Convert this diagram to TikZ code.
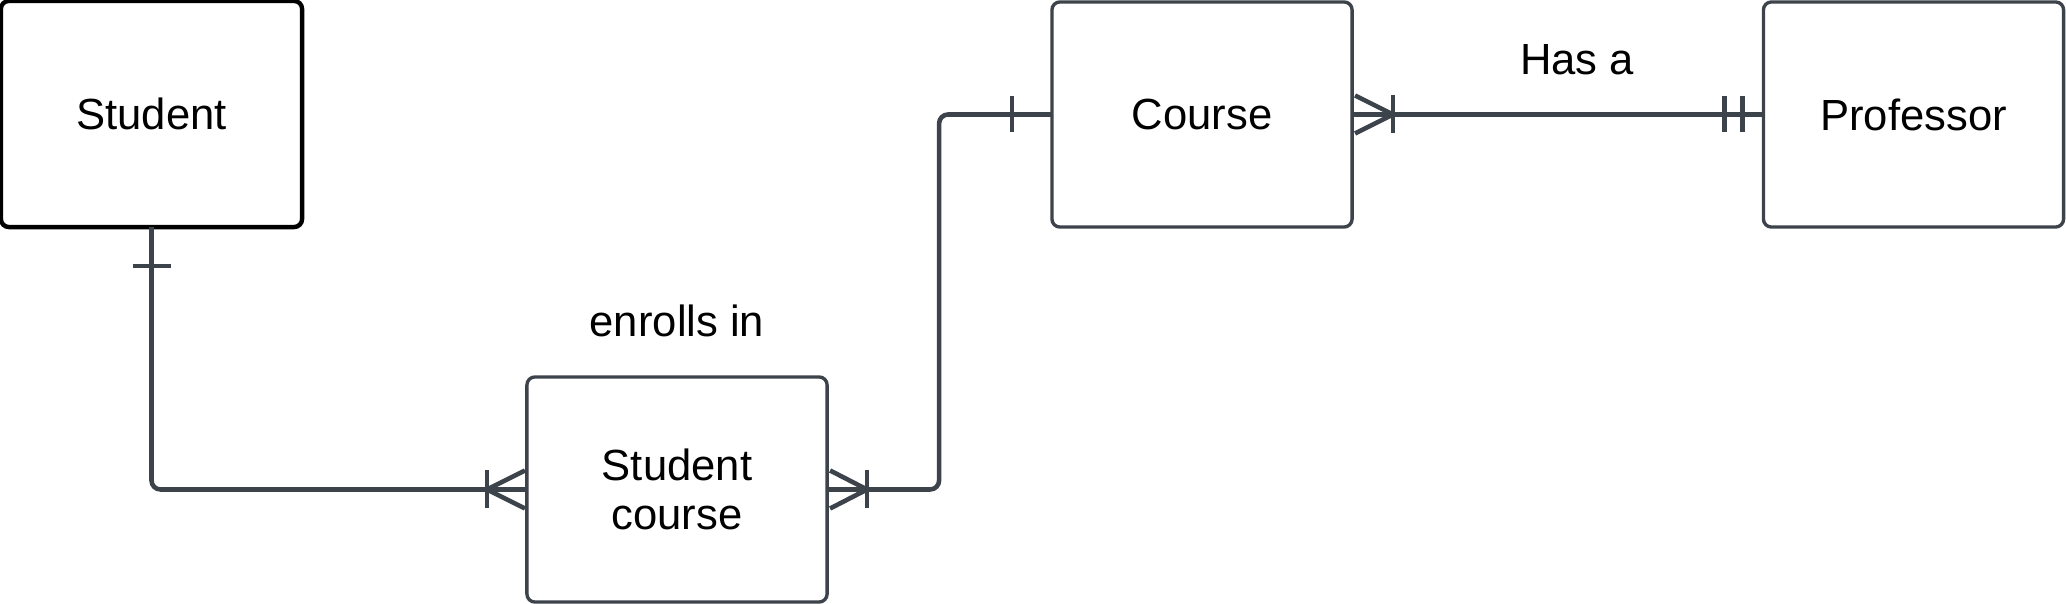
\documentclass[tikz,border=0pt]{standalone}
\usepackage{fontspec}
\setmainfont{Liberation Sans}
\usetikzlibrary{calc}
\definecolor{lc}{HTML}{3D434B}
\begin{document}
\begin{tikzpicture}[x=0.01cm,y=-0.01cm,
  ent/.style={draw=lc, line width=0.95pt, rounded corners=0.08cm, minimum width=3cm, minimum height=2.25cm, inner sep=0pt, outer sep=0pt, font=\fontsize{12.4}{14}\selectfont, align=center, fill=white},
  conn/.style={draw=lc, line width=1.3pt, rounded corners=0.09cm},
  tk/.style={draw=lc, line width=1.3pt},
  lbl/.style={font=\fontsize{12.4}{14}\selectfont, text=black, inner sep=0pt}]
\useasboundingbox (0,0) rectangle (2066,604);
% entities
\node[ent, draw=black, line width=1.25pt, minimum width=3.01cm, minimum height=2.26cm] (st) at (151.5,114) {Student};
\node[ent] (sc) at (677,489.5) {Student\\course};
\node[ent] (co) at (1202,114.5) {Course};
\node[ent] (pr) at (1913.5,114.5) {Professor};
% labels
\node[lbl] (l1) at (677,321) {enrolls in};
\node[lbl] (l2) at (1577,60) {Has a};
% connector Student - Student course
\draw[conn] (st.south) |- (sc.west);
\draw[tk] ($(st.south)+(-19,39)$) -- ($(st.south)+(19,39)$);
\draw[tk] ($(sc.west)+(-40,-19)$) -- ($(sc.west)+(-40,19)$);
\draw[tk] ($(sc.west)+(-40,0)$) -- ($(sc.west)+(-2,-19)$);
\draw[tk] ($(sc.west)+(-40,0)$) -- ($(sc.west)+(-2,19)$);
% connector Student course - Course
\coordinate (k1) at ($(sc.east)+(112,0)$);
\draw[conn] (sc.east) -- (k1) |- (co.west);
\draw[tk] ($(sc.east)+(40,-19)$) -- ($(sc.east)+(40,19)$);
\draw[tk] ($(sc.east)+(40,0)$) -- ($(sc.east)+(3,-19)$);
\draw[tk] ($(sc.east)+(40,0)$) -- ($(sc.east)+(3,19)$);
\draw[tk] ($(co.west)+(-40,-18)$) -- ($(co.west)+(-40,18)$);
% connector Course - Professor
\draw[conn] (co.east) -- (pr.west);
\draw[tk] ($(co.east)+(41,-19)$) -- ($(co.east)+(41,19)$);
\draw[tk] ($(co.east)+(41,0)$) -- ($(co.east)+(3,-19)$);
\draw[tk] ($(co.east)+(41,0)$) -- ($(co.east)+(3,19)$);
\draw[tk] ($(pr.west)+(-39,-18)$) -- ($(pr.west)+(-39,18)$);
\draw[tk] ($(pr.west)+(-21,-18)$) -- ($(pr.west)+(-21,18)$);
\end{tikzpicture}
\end{document}
